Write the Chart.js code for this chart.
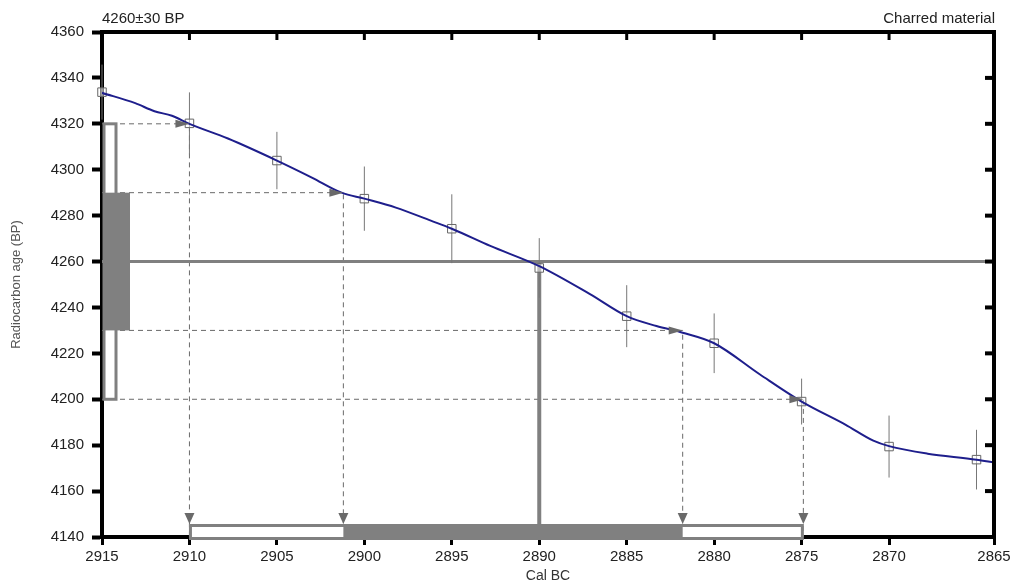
<!DOCTYPE html>
<html>
<head>
<meta charset="utf-8">
<title>Calibration 4260±30 BP</title>
<script src="https://cdn.jsdelivr.net/npm/chart.js@4.4.1/dist/chart.umd.min.js"></script>
<style>
    html, body { margin: 0; padding: 0; background: #fff; }
    #wrap { width: 1015px; height: 585px; }
</style>
</head>
<body>
<div id="wrap"><canvas id="calChart"></canvas></div>
<script>

// Sample
// ----------------------------------------------
const sampleLabel   = '4260±30 BP';
const materialLabel = 'Charred material';
const measuredAge   = 4260;
const sigma1Ages    = [4230, 4290];
const sigma2Ages    = [4200, 4320];

// Calibrated result (Cal BC)
const sigma1Years = [2901.2, 2881.8];
const sigma2Years = [2910, 2874.9];
const medianYear  = 2890;

// Calibration curve
const curveYears = [2915, 2913.1, 2912, 2911, 2910, 2907.8, 2905, 2903, 2901.3, 2900, 2898.2, 2896.2, 2895, 2892.8,
                    2890, 2887.1, 2885, 2883.3, 2881.8, 2880, 2877.4, 2875, 2872.5, 2870.9, 2870, 2867.8, 2865, 2864];
const curveAges  = [4333.5, 4329, 4325.5, 4323.5, 4320, 4313.6, 4304, 4296.6, 4290, 4287.4, 4283.5, 4277.8, 4274.3, 4266.8,
                    4258, 4245.8, 4236.2, 4231.9, 4229, 4224.4, 4210.9, 4199, 4189, 4182, 4179.6, 4176.3, 4173.7, 4172.4];

// Calibration data points
const pointYears  = [2915, 2910, 2905, 2900, 2895, 2890, 2885, 2880, 2875, 2870, 2865];
const pointAges   = [4333.8, 4320.2, 4304, 4287.4, 4274.3, 4257.2, 4236.2, 4224.4, 4199, 4179.4, 4173.7];
const pointErrors = [12, 13.5, 12.5, 14, 15, 13, 13.5, 13, 10, 13.5, 13];

// Axis ticks (the last label sits on the axis end)
const xTicks = [2915, 2910, 2905, 2900, 2895, 2890, 2885, 2880, 2875, 2870, 2865];
const yTicks = [4140, 4160, 4180, 4200, 4220, 4240, 4260, 4280, 4300, 4320, 4340, 4360];
const xMin = 2864;
const xMax = 2915;


const grayColor  = '#808080';
const dashColor  = '#6a6a6a';
const curveColor = '#1e1e8c';
const fontFamily = 'Arial, "Liberation Sans", sans-serif';
const tickFont   = { family: fontFamily, size: 15 };

// Dashed intercept paths: age level -> calibrated year
const intercepts = [
    [sigma2Ages[1], sigma2Years[0]],
    [sigma1Ages[1], sigma1Years[0]],
    [sigma1Ages[0], sigma1Years[1]],
    [sigma2Ages[0], sigma2Years[1]]
];

const yMin = yTicks[0];
const yMax = yTicks[yTicks.length - 1];

// tick positions: every label at its year, except the last one at the axis end
const xTickPos = xTicks.map((v, i) => i === xTicks.length - 1 ? xMin : v);

const errorBarData = [];
pointYears.forEach((yr, i) => {
    errorBarData.push({ x: yr, y: pointAges[i] - pointErrors[i] });
    errorBarData.push({ x: yr, y: pointAges[i] + pointErrors[i] });
    errorBarData.push({ x: yr, y: null });
});

const dashedSets = intercepts.map(([age, yr]) => ({
    label: 'intercept ' + age,
    data: [{ x: xMax, y: age }, { x: yr, y: age }, { x: yr, y: yMin }],
    borderColor: dashColor,
    borderWidth: 1,
    borderDash: [5, 4],
    pointRadius: 0,
    tension: 0,
    order: 6
}));


// Boxes, arrowheads, frame and header texts
// ----------------------------------------------
const calMarks = {
    id: 'calMarks',
    afterDatasetsDraw(chart) {
        const { ctx, chartArea: ca, scales: { x, y } } = chart;
        const barH = 13;
        ctx.save();

        // age ranges on the left
        ctx.strokeStyle = grayColor;
        ctx.lineWidth = 3;
        ctx.fillStyle = '#fff';
        const o1 = y.getPixelForValue(sigma2Ages[1]), o2 = y.getPixelForValue(sigma2Ages[0]);
        ctx.fillRect(ca.left + 2, o1, 12, o2 - o1);
        ctx.strokeRect(ca.left + 2, o1, 12, o2 - o1);
        ctx.fillStyle = grayColor;
        const f1 = y.getPixelForValue(sigma1Ages[1]), f2 = y.getPixelForValue(sigma1Ages[0]);
        ctx.fillRect(ca.left + 1, f1, 27, f2 - f1);

        // calibrated ranges at the bottom
        const top = ca.bottom - barH;
        const s1 = x.getPixelForValue(sigma2Years[0]), s2 = x.getPixelForValue(sigma2Years[1]);
        ctx.fillStyle = '#fff';
        ctx.fillRect(s1, top, s2 - s1, barH);
        ctx.strokeRect(s1 + 1, top + 1.5, s2 - s1 - 2, barH);
        ctx.fillStyle = grayColor;
        const b1 = x.getPixelForValue(sigma1Years[0]), b2 = x.getPixelForValue(sigma1Years[1]);
        ctx.fillRect(b1, top, b2 - b1, barH);

        // arrowheads
        ctx.fillStyle = dashColor;
        intercepts.forEach(([age, yr]) => {
            const px = x.getPixelForValue(yr), py = y.getPixelForValue(age);
            ctx.beginPath();
            ctx.moveTo(px, py);
            ctx.lineTo(px - 14, py - 4);
            ctx.lineTo(px - 14, py + 4);
            ctx.closePath();
            ctx.fill();
            ctx.beginPath();
            ctx.moveTo(px, top);
            ctx.lineTo(px - 5, top - 11);
            ctx.lineTo(px + 5, top - 11);
            ctx.closePath();
            ctx.fill();
        });
        ctx.restore();
    },
    afterDraw(chart) {
        const { ctx, chartArea: ca, scales: { x, y } } = chart;
        ctx.save();
        ctx.strokeStyle = '#000';
        ctx.lineWidth = 4;
        ctx.beginPath();
        ctx.moveTo(ca.left - 2, ca.top);
        ctx.lineTo(ca.right, ca.top);
        ctx.lineTo(ca.right, ca.bottom + 2);
        ctx.stroke();

        // inward ticks on top and right
        ctx.lineWidth = 3;
        xTickPos.forEach(v => {
            const px = x.getPixelForValue(v);
            ctx.beginPath();
            ctx.moveTo(px, ca.top);
            ctx.lineTo(px, ca.top + 8);
            ctx.stroke();
        });
        ctx.lineWidth = 4;
        yTicks.forEach(v => {
            const py = y.getPixelForValue(v);
            ctx.beginPath();
            ctx.moveTo(ca.right, py);
            ctx.lineTo(ca.right - 9, py);
            ctx.stroke();
        });

        // header texts
        ctx.fillStyle = '#222';
        ctx.font = '15px ' + fontFamily;
        ctx.textBaseline = 'alphabetic';
        ctx.textAlign = 'left';
        ctx.fillText(sampleLabel, ca.left, 23);
        ctx.textAlign = 'right';
        ctx.fillText(materialLabel, ca.right + 1, 23);
        ctx.restore();
    }
};


const calChart = new Chart(
    document.getElementById('calChart'), {
        type: 'line',
        data: {
            datasets: [
                {
                    label: 'Calibration curve',
                    data: curveYears.map((yr, i) => ({ x: yr, y: curveAges[i] })),
                    borderColor: curveColor,
                    borderWidth: 2,
                    pointRadius: 0,
                    cubicInterpolationMode: 'monotone',
                    order: 0
                },
                {
                    label: 'Data points',
                    data: pointYears.map((yr, i) => ({ x: yr, y: pointAges[i] })),
                    showLine: false,
                    pointStyle: 'rect',
                    pointRadius: 6,
                    pointBorderWidth: 1,
                    pointBorderColor: '#666',
                    pointBackgroundColor: 'rgba(255,255,255,0.5)',
                    clip: false,
                    order: 1
                },
                {
                    label: 'Errors',
                    data: errorBarData,
                    borderColor: '#777',
                    borderWidth: 1,
                    pointRadius: 0,
                    spanGaps: false,
                    clip: false,
                    order: 2
                },
                {
                    label: 'Measured age',
                    data: [{ x: xMax, y: measuredAge }, { x: xMin, y: measuredAge }],
                    borderColor: grayColor,
                    borderWidth: 3,
                    pointRadius: 0,
                    order: 4
                },
                {
                    label: 'Median',
                    data: [{ x: medianYear, y: measuredAge }, { x: medianYear, y: yMin }],
                    borderColor: grayColor,
                    borderWidth: 4,
                    pointRadius: 0,
                    order: 4
                },
                ...dashedSets
            ]
        },
        plugins: [calMarks],
        options: {
            responsive: true,
            maintainAspectRatio: false,
            animation: false,
            parsing: false,
            layout: { padding: { top: 32, right: 21, left: 0, bottom: 0 } },
            plugins: {
                legend: { display: false },
                tooltip: { enabled: false }
            },
            scales: {
                x: {
                    type: 'linear',
                    reverse: true,
                    min: xMin,
                    max: xMax,
                    afterFit: s => { s.height = 48; },
                    afterBuildTicks: s => { s.ticks = xTickPos.map(v => ({ value: v })); },
                    border: { display: true, width: 4, color: '#000' },
                    grid: {
                        drawOnChartArea: false,
                        tickLength: 8,
                        tickWidth: 3,
                        tickColor: '#000'
                    },
                    ticks: {
                        font: tickFont,
                        color: '#222',
                        padding: 3,
                        maxRotation: 0,
                        autoSkip: false,
                        callback: (v, i) => String(xTicks[i])
                    },
                    title: {
                        display: true,
                        text: 'Cal BC',
                        color: '#333',
                        font: { family: fontFamily, size: 14 },
                        padding: { top: 0, bottom: 0 }
                    }
                },
                y: {
                    type: 'linear',
                    min: yMin,
                    max: yMax,
                    afterFit: s => { s.width = 102; },
                    afterBuildTicks: s => { s.ticks = yTicks.map(v => ({ value: v })); },
                    border: { display: true, width: 4, color: '#000' },
                    grid: {
                        drawOnChartArea: false,
                        tickLength: 10,
                        tickWidth: 4,
                        tickColor: '#000'
                    },
                    ticks: {
                        font: tickFont,
                        color: '#222',
                        padding: 8,
                        autoSkip: false,
                        callback: v => String(v)
                    },
                    title: {
                        display: true,
                        text: 'Radiocarbon age (BP)',
                        color: '#555',
                        font: { family: fontFamily, size: 13 },
                        padding: { top: 9, bottom: 0 }
                    }
                }
            }
        }
    }
);

</script>
</body>
</html>
